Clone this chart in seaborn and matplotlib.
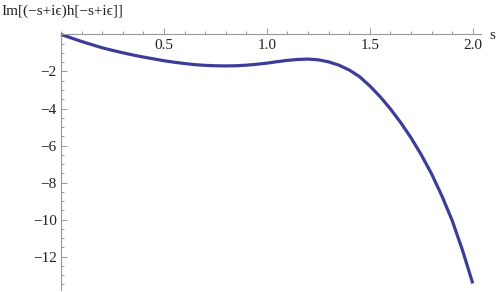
import numpy as np
import pandas as pd
import seaborn as sns
import matplotlib.pyplot as plt
from matplotlib.ticker import MultipleLocator, FixedLocator, FuncFormatter

# values
s_vals = [0.00, 0.05, 0.10, 0.15, 0.20, 0.25, 0.30, 0.35, 0.40, 0.45,
          0.50, 0.55, 0.60, 0.65, 0.70, 0.75, 0.80, 0.85, 0.90, 0.95,
          1.00, 1.05, 1.10, 1.15, 1.20, 1.25, 1.30, 1.35, 1.40, 1.45,
          1.50, 1.55, 1.60, 1.65, 1.70, 1.75, 1.80, 1.85, 1.90, 1.95, 2.00]
im_vals = [0.00, -0.19, -0.38, -0.55, -0.72, -0.86, -0.99, -1.11, -1.22, -1.32,
           -1.42, -1.50, -1.57, -1.63, -1.67, -1.69, -1.70, -1.69, -1.66, -1.61,
           -1.55, -1.47, -1.40, -1.35, -1.33, -1.37, -1.48, -1.66, -1.92, -2.28,
           -2.78, -3.36, -4.02, -4.76, -5.58, -6.50, -7.53, -8.72, -10.05, -11.65, -13.45]

x_ticks = [0.5, 1.0, 1.5, 2.0]
y_ticks = [-2, -4, -6, -8, -10, -12]

y_label = 'Im[(\u2212s+i\u03f5)h[\u2212s+i\u03f5]]'
x_label = 's'

sns.set_style('white')
fonts = ['Liberation Serif', 'DejaVu Serif']
plt.rcParams['font.family'] = fonts
plt.rcParams['font.size'] = 11

df = pd.DataFrame({'s': s_vals, 'im': im_vals})

fig = plt.figure(figsize=(5, 2.92), dpi=100)
ax = fig.add_axes([0.122, 0.007, 0.84, 0.875])
sns.lineplot(data=df, x='s', y='im', ax=ax, color='#3d3d99', linewidth=2.3)
for l in ax.lines:
    l.set_clip_on(False)
    l.set_solid_joinstyle('round')
    l.set_solid_capstyle('butt')

ax.set_xlim(0, 2.04)
ax.set_ylim(-13.8, 0)

ax.spines['top'].set_visible(False)
ax.spines['right'].set_visible(False)
ax.spines['bottom'].set_position(('data', 0))
ax.spines['left'].set_position(('data', 0))
for sp in ['bottom', 'left']:
    ax.spines[sp].set_color('#999999')
    ax.spines[sp].set_linewidth(0.8)

ax.xaxis.set_major_locator(FixedLocator(x_ticks))
ax.xaxis.set_minor_locator(MultipleLocator(0.1))
ax.yaxis.set_major_locator(FixedLocator(y_ticks))
ax.yaxis.set_minor_locator(MultipleLocator(0.5))
ax.xaxis.set_major_formatter(FuncFormatter(lambda v, p: f'{v:.1f}'))
ax.yaxis.set_major_formatter(FuncFormatter(lambda v, p: f'\u2212{abs(v):g}'))

ax.tick_params(which='both', direction='in', color='#999999', width=0.7,
               labelcolor='#222222', labelsize=11, bottom=True, left=True)
ax.tick_params(which='major', length=4.5, pad=3)
ax.tick_params(which='minor', length=2.5)
for t in ax.get_xticklabels() + ax.get_yticklabels():
    t.set_fontfamily(fonts)

ax.set_xlabel('')
ax.set_ylabel('')
fig.text(0.002, 0.96, y_label, ha='left', va='center', fontsize=11,
         color='#222222', family=fonts)
fig.text(0.979, 0.866, x_label, ha='left', va='baseline', fontsize=11,
         color='#222222', family=fonts)

fig.savefig('out.png', dpi=100)
